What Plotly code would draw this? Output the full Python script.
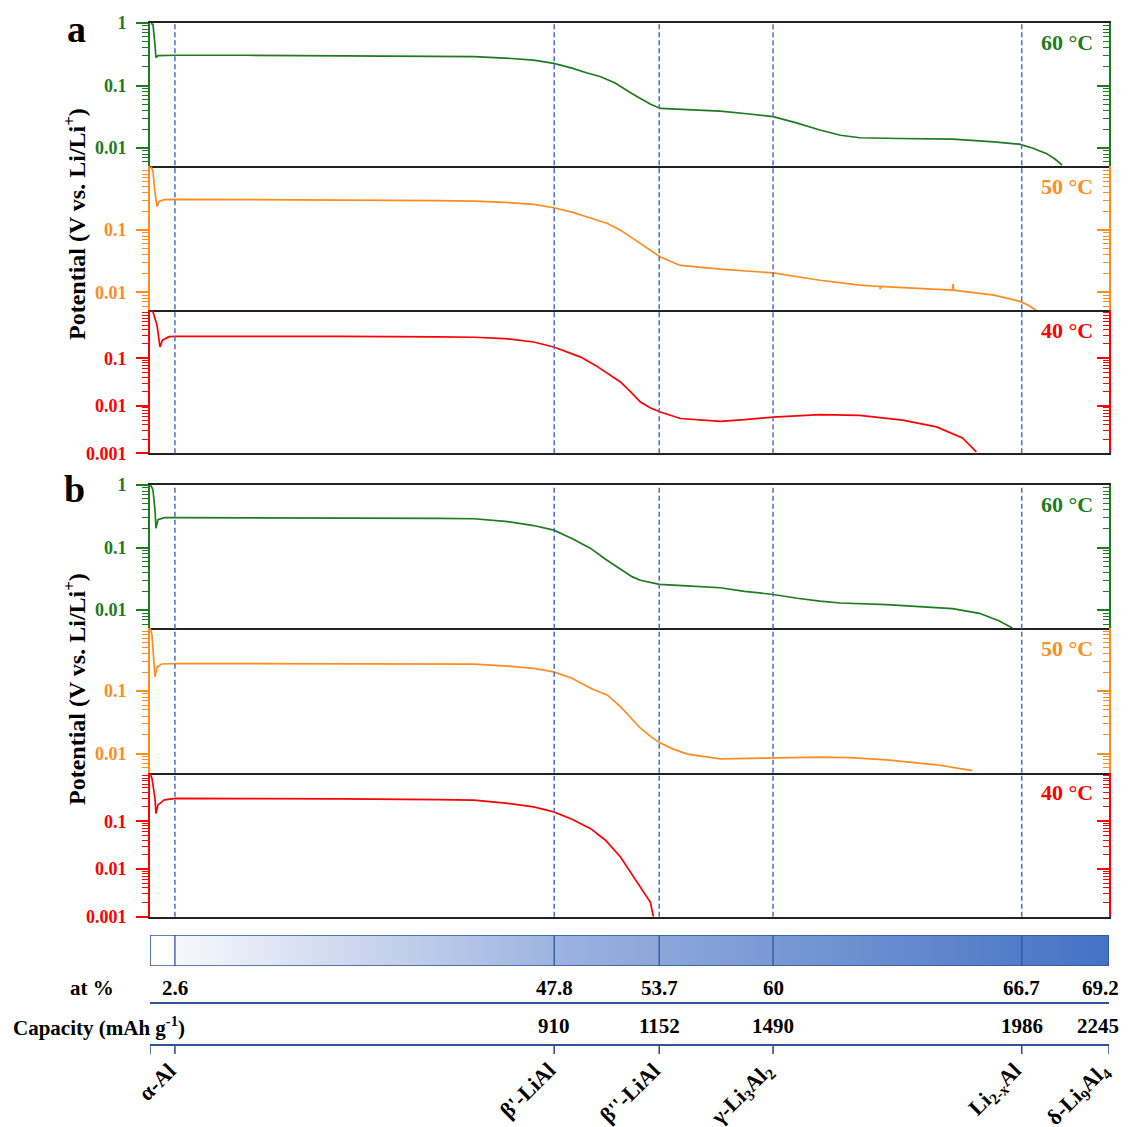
import plotly.graph_objects as go

W, H = 1131, 1127
OFF = 8                      # browser body margin
FW, FH = W - OFF, H - OFF    # figure size so that the page fits the window
FONT = "Liberation Serif"

GREEN = "#1E7B1E"
ORANGE = "#FF8C1F"
RED = "#FF0000"
DASH_BLUE = "#4472C4"
DARK_BLUE = "#2F5597"

# ---------------- data (x: normalized lithiation coordinate, 0-100) ----------------
phase_x = [2.6, 42.15, 53.1, 64.97, 90.9]
phase_tick_x = [0, 2.6, 42.15, 53.1, 64.97, 90.9, 100]
label_x = [2.6, 42.15, 53.1, 64.97, 90.9, 100]
at_pct = ["2.6", "47.8", "53.7", "60", "66.7", "69.2"]
capacity = ["", "910", "1152", "1490", "1986", "2245"]
phase_labels = ["α-Al", "β'-LiAl", "β''-LiAl", "γ-Li<sub>3</sub>Al<sub>2</sub>",
                "Li<sub>2-x</sub>Al", "δ-Li<sub>9</sub>Al<sub>4</sub>"]

# panel a
a60_x = [0.10, 0.31, 0.52, 0.62, 0.83, 2.7, 10, 20, 30, 33.8, 37, 40, 42.1, 44.0, 45.5, 47.0,
         48.5, 49.06, 50.2, 51.14, 52.2, 53.22, 55.3, 59.46, 62.5, 64.97, 67.5, 69.85, 72,
         74.01, 78, 83.68, 88, 90.64, 92.0, 93.45, 94.4, 95.11]
a60_y = [0.98, 0.95, 0.45, 0.28, 0.30, 0.305, 0.305, 0.30, 0.295, 0.289, 0.275, 0.255, 0.226,
         0.19, 0.16, 0.138, 0.11, 0.096, 0.075, 0.062, 0.05, 0.043, 0.042, 0.039, 0.035,
         0.0317, 0.025, 0.0194, 0.016, 0.0146, 0.0142, 0.0139, 0.0125, 0.0115, 0.0100,
         0.0082, 0.0066, 0.0053]

a50_x = [0.10, 0.31, 0.52, 0.73, 0.94, 1.5, 2.7, 10, 20, 30, 33.8, 37, 40, 42.1, 44.0, 46.0,
         47.71, 49.06, 51.14, 52.2, 53.22, 55.3, 59.46, 64.97, 69.85, 74.01, 76.1, 76.15,
         76.2, 78, 83.68, 83.74, 83.8, 88, 90.64, 91.6, 92.41]
a50_y = [1.05, 0.9, 0.4, 0.238, 0.29, 0.31, 0.313, 0.312, 0.305, 0.298, 0.294, 0.28, 0.26,
         0.229, 0.195, 0.155, 0.128, 0.10, 0.061, 0.047, 0.037, 0.027, 0.0235, 0.0205,
         0.0156, 0.013, 0.0124, 0.0112, 0.0124, 0.012, 0.0108, 0.0135, 0.0108, 0.0090,
         0.0072, 0.0062, 0.0051]

a40_x = [0.10, 0.31, 0.73, 1.04, 1.3, 2.0, 2.7, 10, 20, 30, 33.8, 37, 40, 42.1, 44.91, 46.5,
         47.71, 49.06, 50.2, 51.14, 52.2, 53.22, 55.3, 59.46, 62, 64.97, 69.85, 74.01, 78.48,
         82.02, 84.72, 86.17]
a40_y = [1.0, 0.95, 0.5, 0.173, 0.24, 0.285, 0.29, 0.294, 0.29, 0.282, 0.277, 0.26, 0.22,
         0.173, 0.106, 0.07, 0.0477, 0.0317, 0.019, 0.012, 0.0090, 0.0074, 0.0054, 0.0047,
         0.0051, 0.0058, 0.0065, 0.0063, 0.0050, 0.0036, 0.0021, 0.00107]

# panel b
b60_x = [0.05, 0.3, 0.52, 0.62, 0.83, 1.5, 2.7, 10, 20, 30, 33.78, 37.32, 40, 42.1, 44.0,
         45.95, 47.5, 49.06, 50.3, 51.14, 53.12, 56, 59.46, 62.0, 64.97, 67.5, 69.85, 72,
         76.82, 83.68, 86.49, 88.57, 89.92]
b60_y = [1.0, 0.85, 0.4, 0.203, 0.28, 0.30, 0.30, 0.30, 0.298, 0.292, 0.289, 0.259, 0.225,
         0.19, 0.14, 0.097, 0.065, 0.046, 0.034, 0.030, 0.0258, 0.0245, 0.0228, 0.020,
         0.0178, 0.0155, 0.0139, 0.013, 0.0123, 0.0106, 0.0089, 0.0067, 0.0052]

b50_x = [0.0, 0.2, 0.4, 0.52, 0.73, 1.2, 2.7, 10, 20, 30, 33.78, 37.32, 40, 42.1, 44, 46,
         47.71, 49.06, 50.1, 51.14, 52.2, 53.12, 54.5, 56.03, 59.46, 64.97, 69.85, 73, 76.82,
         82.02, 84.5, 85.76]
b50_y = [1.0, 0.8, 0.3, 0.169, 0.24, 0.27, 0.275, 0.275, 0.272, 0.27, 0.268, 0.25, 0.23,
         0.202, 0.16, 0.11, 0.086, 0.0564, 0.038, 0.0256, 0.019, 0.0151, 0.0120, 0.0099,
         0.0083, 0.0087, 0.0089, 0.0087, 0.0080, 0.0067, 0.0059, 0.0054]

b40_x = [0.0, 0.2, 0.52, 0.62, 0.83, 1.5, 2.7, 10, 20, 30, 33.78, 37.32, 40, 42.1, 44,
         45.95, 47.5, 49.06, 50.83, 52.18, 52.49]
b40_y = [1.0, 0.8, 0.3, 0.145, 0.22, 0.28, 0.30, 0.30, 0.295, 0.285, 0.277, 0.236, 0.2,
         0.157, 0.11, 0.070, 0.04, 0.0178, 0.0053, 0.002, 0.001]

temps = ["60 °C", "50 °C", "40 °C"]
colors = [GREEN, ORANGE, RED]
series = [(a60_x, a60_y), (a50_x, a50_y), (a40_x, a40_y),
          (b60_x, b60_y), (b50_x, b50_y), (b40_x, b40_y)]

major_ticks = [[1, 0.1, 0.01], [0.1, 0.01], [0.1, 0.01, 0.001]]
major_text = [["1", "0.1", "0.01"], ["0.1", "0.01"], ["0.1", "0.01", "0.001"]]
minor_vals = [m * d for d in (0.001, 0.01, 0.1) for m in range(2, 10)]

# ---------------- layout geometry (window pixels -> paper) ----------------
def px(p):
    return (p - OFF) / FW


def py(p):
    return 1 - (p - OFF) / FH


XL, XR = px(150), px(1109)
panel_px = [(23, 166), (166, 310.3), (310.3, 453.3),
            (485, 628.3), (628.3, 772.7), (772.7, 916.7)]
yranges = [[-2.288, 0], [-2.29, 0.032], [-3.0, 0.01],
           [-2.29, 0], [-2.30, 0.0], [-3.0, 0.017]]

fig = go.Figure()
layout = dict(
    template="none",
    width=FW, height=FH, margin=dict(l=0, r=0, t=0, b=0, autoexpand=False),
    paper_bgcolor="white", plot_bgcolor="rgba(0,0,0,0)",
    showlegend=False,
    font=dict(family=FONT, size=18, color="black", weight="bold"),
)

shapes = []
annotations = []

for i in range(6):
    n = i + 1
    k = i % 3
    col = colors[k]
    xs, ys = series[i]
    xa = "x" if n == 1 else f"x{n}"
    ya = "y" if n == 1 else f"y{n}"
    fig.add_trace(go.Scatter(x=xs, y=ys, mode="lines", xaxis=xa, yaxis=ya,
                             line=dict(color=col, width=1.7), hoverinfo="skip"))
    top, bot = panel_px[i]
    dom = [py(bot), py(top)]
    layout[f"xaxis{n}"] = dict(domain=[XL, XR], range=[0, 100], anchor=ya,
                               showline=True, linecolor="#222222", linewidth=1.5,
                               mirror=(k == 0), ticks="", showticklabels=False,
                               showgrid=False, zeroline=False, automargin=False)
    layout[f"yaxis{n}"] = dict(domain=dom, type="log", range=yranges[i], anchor=xa,
                               showline=True, linecolor=col, linewidth=1.6,
                               tickmode="array", tickvals=major_ticks[k],
                               ticktext=major_text[k], ticks="outside", ticklen=12,
                               tickwidth=1.5, tickcolor=col, ticklabelstandoff=6,
                               tickfont=dict(family=FONT, size=18, color=col, weight="bold"),
                               minor=dict(tickmode="array", tickvals=minor_vals,
                                          ticks="outside", ticklen=6, tickwidth=1.2,
                                          tickcolor=col, showgrid=False),
                               showgrid=False, zeroline=False, automargin=False)
    # right-side axis with inward ticks
    m = n + 6
    ya_r = f"y{m}"
    fig.add_trace(go.Scatter(x=[], y=[], xaxis=xa, yaxis=ya_r, mode="lines",
                             hoverinfo="skip"))
    layout[f"yaxis{m}"] = dict(domain=dom, type="log", range=yranges[i], anchor=xa,
                               overlaying=ya, side="right",
                               showline=True, linecolor=col, linewidth=1.6,
                               tickmode="array", tickvals=major_ticks[k],
                               ticks="inside", ticklen=12, tickwidth=1.5, tickcolor=col,
                               showticklabels=False,
                               minor=dict(tickmode="array", tickvals=minor_vals,
                                          ticks="inside", ticklen=6, tickwidth=1.2,
                                          tickcolor=col, showgrid=False),
                               showgrid=False, zeroline=False, automargin=False)
    annotations.append(dict(text=temps[k], x=px(1095), y=py(top + 20), xref="paper",
                            yref="paper", xanchor="right", yanchor="middle",
                            showarrow=False,
                            font=dict(family=FONT, size=22, color=col, weight="bold")))

# dashed phase-boundary lines, per panel
for (ptop, pbot), xref in [((23, 453.3), "x"), ((485, 916.7), "x4")]:
    for bx in phase_x:
        shapes.append(dict(type="line", xref=xref, yref="paper", x0=bx, x1=bx,
                           y0=py(pbot), y1=py(ptop),
                           line=dict(color=DASH_BLUE, width=1.5, dash="5px,3px"),
                           layer="above"))

# panel letters and y titles
annotations.append(dict(text="a", x=px(76), y=py(29), xref="paper", yref="paper",
                        showarrow=False, xanchor="center", yanchor="middle",
                        font=dict(family=FONT, size=38, color="black", weight="bold")))
annotations.append(dict(text="b", x=px(74), y=py(489), xref="paper", yref="paper",
                        showarrow=False, xanchor="center", yanchor="middle",
                        font=dict(family=FONT, size=38, color="black", weight="bold")))
for cy in (224, 689):
    annotations.append(dict(text="Potential (V vs. Li/Li<sup>+</sup>)", x=px(75), y=py(cy),
                            xref="paper", yref="paper", textangle=-90, showarrow=False,
                            xanchor="center", yanchor="middle",
                            font=dict(family=FONT, size=24, color="black", weight="bold")))

# ---------------- composition bar ----------------
layout["xaxis13"] = dict(domain=[XL, XR], range=[0, 100], visible=False, anchor="y13")
layout["yaxis13"] = dict(domain=[py(966), py(935)], range=[0, 1], visible=False,
                         anchor="x13")
bar_x = [phase_x[0], 100, 100, phase_x[0], phase_x[0]]
bar_y = [0, 0, 1, 1, 0]
fig.add_trace(go.Scatter(x=bar_x, y=bar_y, xaxis="x13", yaxis="y13", mode="lines",
                         fill="toself", line=dict(width=0, color="rgba(0,0,0,0)"),
                         fillgradient=dict(type="horizontal",
                                           colorscale=[[0, "#F6F8FC"], [0.42, "#9AB1DF"],
                                                       [1, "#4472C4"]]),
                         hoverinfo="skip"))
shapes.append(dict(type="rect", xref="x13", yref="y13", x0=0, x1=100, y0=0, y1=1,
                   line=dict(color=DARK_BLUE, width=1.6)))
for bx in phase_x:
    shapes.append(dict(type="line", xref="x13", yref="y13", x0=bx, x1=bx, y0=0, y1=1,
                       line=dict(color=DARK_BLUE, width=1.3)))

for yy in (1003, 1045):
    shapes.append(dict(type="line", xref="x13", yref="paper", x0=0, x1=100,
                       y0=py(yy), y1=py(yy), line=dict(color=DARK_BLUE, width=2)))
for tx in phase_tick_x:
    shapes.append(dict(type="line", xref="x13", yref="paper", x0=tx, x1=tx,
                       y0=py(1045), y1=py(1054), line=dict(color=DARK_BLUE, width=1.6)))

row_font = dict(family=FONT, size=21, color="black", weight="bold")
annotations.append(dict(text="at %", x=px(116), y=py(988), xref="paper", yref="paper",
                        xanchor="right", yanchor="middle", showarrow=False, font=row_font))
annotations.append(dict(text="Capacity (mAh g<sup>-1</sup>)", x=px(11), y=py(1026),
                        xref="paper", yref="paper", xanchor="left", yanchor="middle",
                        showarrow=False, font=row_font))
n_lab = len(label_x)
for j, (lx, a, c) in enumerate(zip(label_x, at_pct, capacity)):
    last = (j == n_lab - 1)
    anc = "right" if last else "center"
    shift = 12 if last else 0
    annotations.append(dict(text=a, x=lx, xref="x13", y=py(988), yref="paper",
                            xanchor=anc, xshift=shift, yanchor="middle", showarrow=False,
                            font=row_font))
    if c:
        annotations.append(dict(text=c, x=lx, xref="x13", y=py(1026), yref="paper",
                                xanchor=anc, xshift=shift, yanchor="middle",
                                showarrow=False, font=row_font))
for lx, lab in zip(label_x, phase_labels):
    annotations.append(dict(text=lab, x=lx, xref="x13", y=py(1055), yref="paper",
                            xanchor="right", yanchor="top", xshift=9, textangle=-45,
                            showarrow=False,
                            font=dict(family=FONT, size=22, color="black", weight="bold")))

layout["shapes"] = shapes
layout["annotations"] = annotations
fig.update_layout(**layout)
fig.write_html("out.html")
